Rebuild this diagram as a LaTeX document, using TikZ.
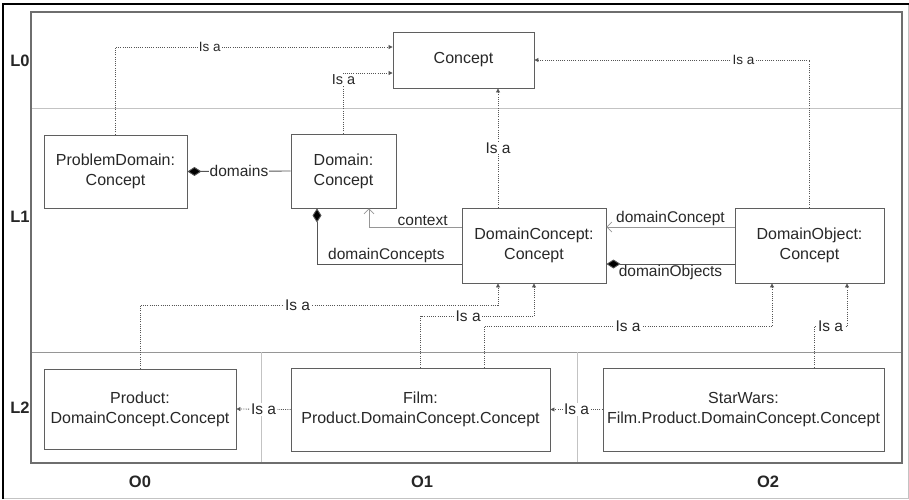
\documentclass[tikz,border=0pt]{standalone}
\usepackage{fontspec}
\setmainfont{Liberation Sans}
\usetikzlibrary{arrows.meta}

\definecolor{boxline}{RGB}{95,95,95}
\definecolor{framecol}{RGB}{110,110,110}
\definecolor{sepcol}{RGB}{195,195,195}
\definecolor{sepdark}{RGB}{150,150,150}
\definecolor{isacol}{RGB}{85,85,85}
\definecolor{assoccol}{RGB}{150,150,150}
\definecolor{txtcol}{RGB}{40,40,40}

\tikzset{
  cls/.style={draw=boxline, line width=0.9pt, fill=white, align=center,
    text=txtcol, inner sep=2pt, font=\fontsize{16}{20}\selectfont},
  lvl/.style={font=\bfseries\fontsize{16.5}{18}\selectfont, text=black!85},
  isa/.style={draw=isacol, line width=0.8pt, dash pattern=on 1pt off 1.2pt,
    -{Triangle[length=4pt,width=4pt]}},
  isalbl/.style={fill=white, inner sep=1pt, text=txtcol,
    font=\fontsize{15.5}{18}\selectfont},
  smalllbl/.style={isalbl, font=\fontsize{13.5}{16}\selectfont},
  comp/.style={draw=isacol, line width=0.9pt,
    {Diamond[length=14pt,width=9pt,fill=black]}-},
  assoc/.style={draw=assoccol, line width=0.9pt,
    -{Straight Barb[length=5pt,width=10pt,line width=0.7pt]}},
  rolelbl/.style={inner sep=1pt, text=txtcol, font=\fontsize{15.5}{18}\selectfont}
}

\begin{document}
\begin{tikzpicture}[x=1pt, y=-1pt]
\useasboundingbox (0,0) rectangle (909,499);

% outer border of the sheet
\draw[sepcol, line width=1pt] (908,4) -- (908,498) -- (3,498);
\draw[black, line width=2.2pt] (3,499) -- (3,4) -- (909,4);

% layer frame and separators
\draw[sepcol, line width=0.9pt] (31,108) -- (902,108);
\draw[sepdark, line width=0.9pt] (31,352) -- (902,352);
\draw[sepcol, line width=0.9pt] (261,352) -- (261,463);
\draw[sepcol, line width=0.9pt] (577,352) -- (577,463);
\draw[framecol, line width=1.1pt] (31,12) rectangle (902,463);

% layer and level labels
\node[lvl] (L0) at (20,61) {L0};
\node[lvl] (L1) at (20,217) {L1};
\node[lvl] (L2) at (20,408) {L2};
\node[lvl] (O0) at (140,482) {O0};
\node[lvl] (O1) at (422,482) {O1};
\node[lvl] (O2) at (768,482) {O2};

% classes
\node[cls, minimum width=141pt, minimum height=56pt] (concept) at (463.5,60) {Concept};
\node[cls, minimum width=143pt, minimum height=73pt] (pd) at (115.5,171.5) {ProblemDomain:\\Concept};
\node[cls, minimum width=105pt, minimum height=74pt] (dom) at (343.5,171) {Domain:\\Concept};
\node[cls, minimum width=144pt, minimum height=75pt] (dc) at (534,245.5) {DomainConcept:\\Concept};
\node[cls, minimum width=149pt, minimum height=75pt] (do) at (809.5,245.5) {DomainObject:\\Concept};
\node[cls, minimum width=192pt, minimum height=80pt] (prod) at (140,409) {Product:\\DomainConcept.Concept};
\node[cls, minimum width=259pt, minimum height=83pt] (film) at (420.5,409.5) {Film:\\Product.DomainConcept.Concept};
\node[cls, minimum width=281pt, minimum height=83pt] (sw) at (743.5,409.5) {StarWars:\\Film.Product.DomainConcept.Concept};

% generalisations towards Concept
\draw[isa] (pd.north) |- node[smalllbl, pos=0.67] {Is a} ([yshift=13pt]concept.west);
\draw[isa] (dom.north) |- node[smalllbl, pos=0.5, yshift=-7pt, font=\fontsize{14.5}{16}\selectfont] {Is a} ([yshift=-13pt]concept.west);
\draw[isa] ([xshift=-36pt]dc.north) -- node[isalbl, pos=0.5] {Is a} ([xshift=-36pt]dc.north |- concept.south);
\draw[isa] (do.north) |- node[smalllbl, pos=0.62] {Is a} (concept.east);

% compositions and associations in L1
\draw[comp] (pd.east) -- node[rolelbl, fill=white, pos=0.5] {domains} (dom.west);
\draw[assoc] ([yshift=18.5pt]dc.west) -| node[rolelbl, above, pos=0.21] {context} ([xshift=25.5pt]dom.south);
\draw[comp] ([xshift=-26.5pt]dom.south) |- node[rolelbl, above, pos=0.74] {domainConcepts} ([yshift=-18.5pt]dc.west);
\draw[assoc] ([yshift=18.5pt]do.west) -- node[rolelbl, above, pos=0.5] {domainConcept} ([yshift=18.5pt]dc.east);
\draw[comp] ([yshift=-18.5pt]dc.east) -- node[rolelbl, below, pos=0.5] {domainObjects} ([yshift=-18.5pt]do.west);

% generalisations from L2
\draw[isa] (prod.north) |- node[isalbl, pos=0.72] {Is a} ([xshift=-36pt, yshift=-22pt]dc.south) -- ([xshift=-36pt]dc.south);
\draw[isa] (film.north) |- node[isalbl, pos=0.71] {Is a} ([yshift=-33pt]dc.south) -- (dc.south);
\draw[isa] ([xshift=63.5pt]film.north) |- node[isalbl, pos=0.75] {Is a} ([xshift=-37.5pt, yshift=-43pt]do.south) -- ([xshift=-37.5pt]do.south);
\draw[isa] ([xshift=70.5pt]sw.north) |- node[isalbl, pos=0.75] {Is a} ([xshift=37.5pt, yshift=-43pt]do.south) -- ([xshift=37.5pt]do.south);
\draw[isa] (film.west) -- node[isalbl, pos=0.5] {Is a} (prod.east);
\draw[isa] (sw.west) -- node[isalbl, pos=0.5] {Is a} (film.east);
\end{tikzpicture}
\end{document}
